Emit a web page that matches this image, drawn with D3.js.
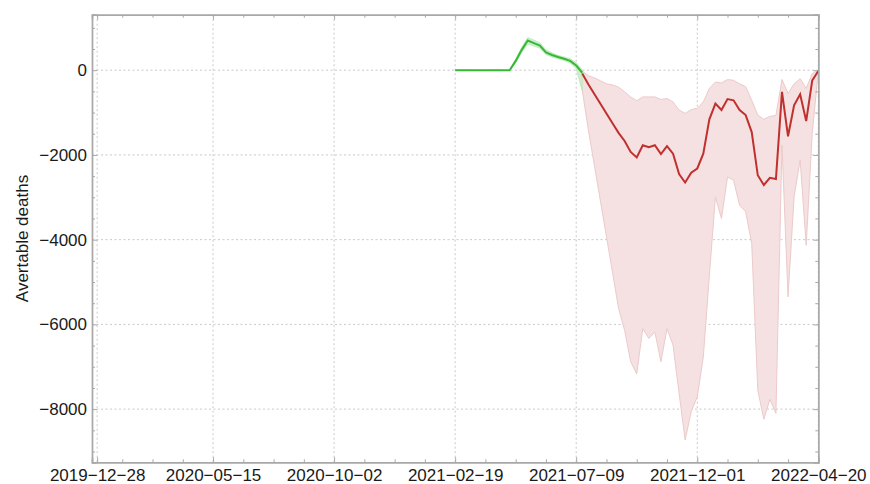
<!DOCTYPE html>
<html>
<head>
<meta charset="utf-8">
<script src="https://cdn.jsdelivr.net/npm/d3@7/dist/d3.min.js"></script>
<style>
  body { margin: 0; background: #fff; }
  svg { font-family: "Liberation Sans", Arial, sans-serif; }
  .grid line { stroke: #c9c9c9; stroke-width: 1; stroke-dasharray: 2,2.5; }
  .axis path { stroke: #a8a8a8; stroke-width: 1.4; }
  .axis line { stroke: #a8a8a8; stroke-width: 1; }
  .axis text { font-size: 17px; fill: #1a1a1a; }
</style>
</head>
<body>
<div id="main"></div>
<script>
// x is measured in weeks, 0 = 2021-02-19
let tickWeeks = [-59.15, -40, -20, 0, 20, 40, 60];
let tickLabels = ['2019\u221212\u221228', '2020\u221205\u221215', '2020\u221210\u221202',
                  '2021\u221202\u221219', '2021\u221207\u221209', '2021\u221212\u221201', '2022\u221204\u221220'];
let yTicks = [0, -2000, -4000, -6000, -8000];

// green part (weeks 0..21)
let greenWeeks = d3.range(0, 22);
let greenMean = [0, 0, 0, 0, 0, 0, 0, 0, 0, 0, 220, 480, 700, 640, 580, 420, 360, 310, 270, 220, 110, -60];
let greenLow  = [0, 0, 0, 0, 0, 0, 0, 0, 0, 0, 170, 420, 620, 570, 520, 370, 310, 270, 230, 170, 40, -480];
let greenHigh = [0, 0, 0, 0, 0, 0, 0, 0, 0, 0, 260, 540, 770, 710, 650, 480, 410, 350, 310, 270, 180, 10];

// red part (weeks 21..60)
let redWeeks = d3.range(21, 61);
let redMean = [-80, -330, -560, -790, -1020, -1250, -1480, -1670, -1930, -2060,
               -1770, -1820, -1770, -1980, -1790, -1970, -2450, -2650, -2420, -2320,
               -1970, -1160, -790, -940, -680, -710, -940, -1060, -1460, -2480,
               -2710, -2540, -2570, -510, -1560, -830, -570, -1200, -240, -20];
let redHigh = [-20, -130, -180, -250, -320, -350, -400, -510, -630, -720,
               -630, -630, -630, -690, -670, -750, -940, -1020, -930, -900,
               -750, -430, -280, -300, -220, -240, -320, -390, -710, -1060,
               -1160, -1090, -1070, -220, -550, -320, -200, -430, -80, 0];
let redLow  = [-470, -1400, -2240, -3090, -3930, -4770, -5620, -6140, -6880, -7170,
               -6100, -6330, -6180, -6880, -6100, -6490, -7620, -8730, -8060, -7710,
               -6770, -4850, -2990, -3500, -2520, -2600, -3190, -3340, -4090, -7550,
               -8240, -7770, -8100, -1770, -5350, -2990, -2120, -4130, -1490, -20];

let width = 870, height = 484;
let plotLeft = 92, plotRight = 818.3, plotTop = 14.7, plotBottom = 462.3;

let svg = d3.select('#main').append('svg')
  .attr('width', width)
  .attr('height', height);

let x = d3.scaleLinear().domain([-60, 60]).range([plotLeft, plotRight]);
let y = d3.scaleLinear().domain([-9255, 1310]).range([plotBottom, plotTop]);

let minorX = d3.range(-55, 60, 5).filter(function(d) { return tickWeeks.indexOf(d) < 0; });
let minorY = d3.range(-9000, 1500, 500).filter(function(d) { return d % 2000 !== 0; });

let fmtY = function(d) { return d < 0 ? '\u2212' + Math.abs(d) : d; };

// gridlines
let grid = svg.append('g').attr('class', 'grid');
grid.selectAll('.vx').data(tickWeeks).enter().append('line')
  .attr('x1', d => x(d)).attr('x2', d => x(d))
  .attr('y1', plotTop).attr('y2', plotBottom);
grid.selectAll('.hy').data(yTicks).enter().append('line')
  .attr('x1', plotLeft).attr('x2', plotRight)
  .attr('y1', d => y(d)).attr('y2', d => y(d));

let area = d3.area()
  .x(d => x(d.w))
  .y0(d => y(d.lo))
  .y1(d => y(d.hi));
let line = d3.line().x(d => x(d.w)).y(d => y(d.m));

let redData = redWeeks.map((w, i) => ({ w: w, m: redMean[i], lo: redLow[i], hi: redHigh[i] }));
let greenData = greenWeeks.map((w, i) => ({ w: w, m: greenMean[i], lo: greenLow[i], hi: greenHigh[i] }));

// red band, starting where the green line crosses into it
let redBand = [{ w: 20, m: greenMean[20], lo: greenMean[20], hi: greenMean[20] }].concat(redData);

svg.append('path')
  .datum(redBand)
  .attr('d', area)
  .attr('fill', '#f5e1e1')
  .attr('stroke', '#eccaca')
  .attr('stroke-width', 1);

svg.append('path')
  .datum(greenData.slice(9))
  .attr('d', area)
  .attr('fill', '#cdefcd')
  .attr('stroke', '#b9e8b9')
  .attr('stroke-width', 0.8);

svg.append('path')
  .datum(greenData)
  .attr('d', line)
  .attr('fill', 'none')
  .attr('stroke', '#35b935')
  .attr('stroke-width', 2);

svg.append('path')
  .datum(redData)
  .attr('d', line)
  .attr('fill', 'none')
  .attr('stroke', '#c0302e')
  .attr('stroke-width', 2);

// axes (ticks point inward)
function axisGroup(axis, tx, ty) {
  return svg.append('g').attr('class', 'axis')
    .attr('transform', 'translate(' + tx + ',' + ty + ')')
    .call(axis);
}

axisGroup(d3.axisBottom(x).tickValues(minorX).tickSize(-3).tickFormat(''), 0, plotBottom);
axisGroup(d3.axisTop(x).tickValues(minorX).tickSize(-3).tickFormat(''), 0, plotTop);
axisGroup(d3.axisLeft(y).tickValues(minorY).tickSize(-3).tickFormat(''), plotLeft, 0);
axisGroup(d3.axisRight(y).tickValues(minorY).tickSize(-3).tickFormat(''), plotRight, 0);

axisGroup(d3.axisBottom(x).tickValues(tickWeeks).tickSize(-5).tickPadding(7)
  .tickFormat((d, i) => tickLabels[i]), 0, plotBottom);
axisGroup(d3.axisTop(x).tickValues(tickWeeks).tickSize(-5).tickFormat(''), 0, plotTop);
axisGroup(d3.axisLeft(y).tickValues(yTicks).tickSize(-5).tickPadding(5)
  .tickFormat(fmtY), plotLeft, 0);
axisGroup(d3.axisRight(y).tickValues(yTicks).tickSize(-5).tickFormat(''), plotRight, 0);

svg.append('text')
  .attr('transform', 'translate(28,' + ((plotTop + plotBottom) / 2) + ') rotate(-90)')
  .attr('text-anchor', 'middle')
  .style('font-size', '17px')
  .style('fill', '#1a1a1a')
  .text('Avertable deaths');
</script>
</body>
</html>
